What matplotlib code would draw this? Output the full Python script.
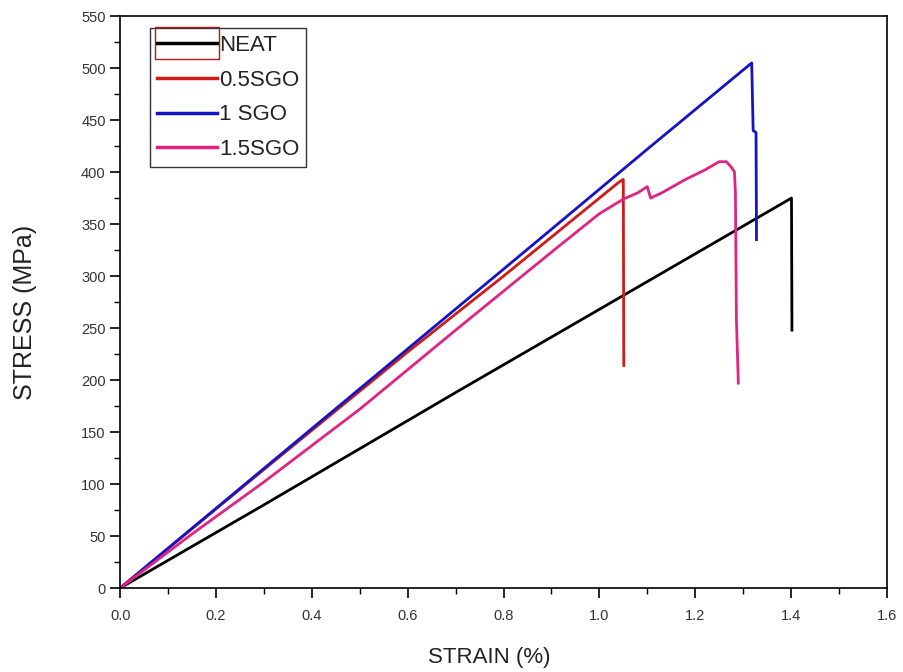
import matplotlib
matplotlib.use("Agg")
import matplotlib.pyplot as plt
from matplotlib.ticker import MultipleLocator, FormatStrFormatter
from matplotlib.patches import Rectangle

plt.rcParams['font.family'] = ['Liberation Sans', 'DejaVu Sans']

labels = ["NEAT", "0.5SGO", "1 SGO", "1.5SGO"]
colors = ["#000000", "#d11a1a", "#1414c4", "#e02480"]

neat_x = [0.0, 0.30, 0.70, 1.00, 1.401, 1.402]
neat_y = [0.0, 80, 188, 268, 375, 248]

sgo05_x = [0.0, 0.30, 0.60, 0.80, 1.00, 1.04, 1.05, 1.051]
sgo05_y = [0.0, 114, 227, 300, 375, 390, 393, 214]

sgo1_x = [0.0, 0.30, 0.60, 0.90, 1.10, 1.318, 1.321, 1.327, 1.328]
sgo1_y = [0.0, 115, 230, 345, 422, 505, 440, 438, 335]

sgo15_x = [0.0, 0.15, 0.30, 0.50, 0.70, 0.90, 1.00, 1.05, 1.08, 1.10, 1.107, 1.13,
           1.18, 1.22, 1.25, 1.265, 1.275, 1.282, 1.284, 1.286, 1.29]
sgo15_y = [0.0, 52, 102, 172, 248, 323, 360, 374, 380, 386, 375, 380,
           393, 402, 410, 410, 405, 400, 380, 260, 197]

series = [(neat_x, neat_y), (sgo05_x, sgo05_y), (sgo1_x, sgo1_y), (sgo15_x, sgo15_y)]

fig = plt.figure(figsize=(9.04, 6.72), dpi=100)
ax = fig.add_axes([0.133, 0.125, 0.848, 0.851])

for (xs, ys), lab, c in zip(series, labels, colors):
    ax.plot(xs, ys, color=c, lw=2.0, label=lab)

ax.set_xlim(0, 1.6)
ax.set_ylim(0, 550)
ax.xaxis.set_major_locator(MultipleLocator(0.2))
ax.xaxis.set_minor_locator(MultipleLocator(0.1))
ax.yaxis.set_major_locator(MultipleLocator(50))
ax.yaxis.set_minor_locator(MultipleLocator(25))
ax.xaxis.set_major_formatter(FormatStrFormatter('%.1f'))
ax.tick_params(which='major', direction='out', length=7, width=1.2, labelsize=10.5,
               labelcolor='#333333', top=False, right=False)
ax.tick_params(axis='x', which='major', pad=8)
ax.tick_params(which='minor', direction='out', length=4, width=1.0, top=False, right=False)
for s in ax.spines.values():
    s.set_linewidth(1.2)

ax.set_xlabel("STRAIN (%)", fontsize=16, color='#222222')
ax.set_ylabel("STRESS (MPa)", fontsize=18, color='#222222')
ax.xaxis.set_label_coords(0.481, -0.103)
ax.yaxis.set_label_coords(-0.108, 0.481)

leg = ax.legend(loc='upper left', bbox_to_anchor=(0.039, 0.979), borderaxespad=0,
                fontsize=16, frameon=True, fancybox=False, edgecolor='black',
                handlelength=2.7, handletextpad=0.1, labelspacing=0.62,
                borderpad=0.3)
leg.get_frame().set_linewidth(1.0)
for line in leg.get_lines():
    line.set_linewidth(2.5)
for t in leg.get_texts():
    t.set_color('#222222')

# selection box drawn round the first legend handle (as in the original export)
fig.canvas.draw()
r = fig.canvas.get_renderer()
bb = leg.get_lines()[0].get_window_extent(r)
cy = 0.5 * (bb.y0 + bb.y1)
fig.patches.append(Rectangle((bb.x0 - 2, cy - 16), bb.width + 4, 32,
                             transform=None, fill=False, edgecolor='#b01818',
                             lw=1.0, zorder=10, figure=fig))

fig.savefig("out.png", dpi=100)
